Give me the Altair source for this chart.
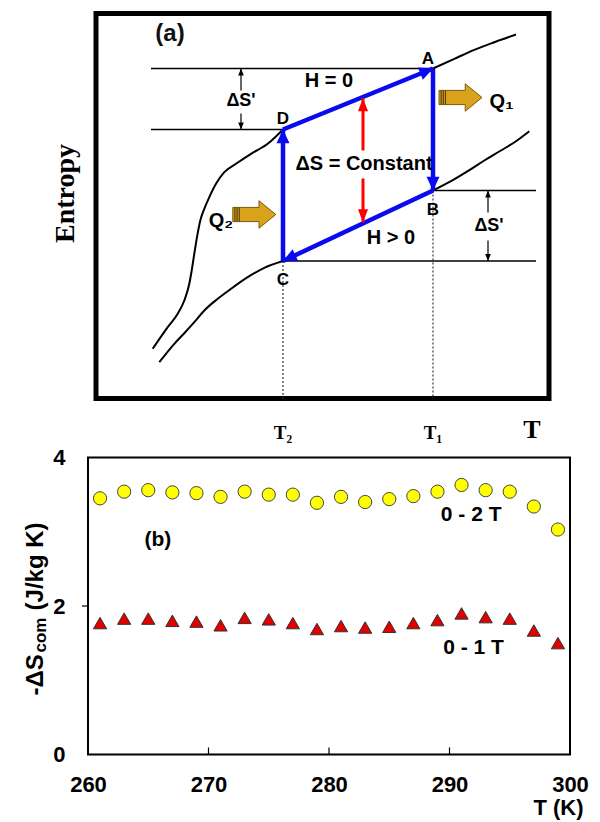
import math
import altair as alt
import pandas as pd

SANS = "Liberation Sans"
SERIF = "Liberation Serif"

# ---------------- panel (b) data ----------------
T_K = [261, 263, 265, 267, 269, 271, 273, 275, 277, 279,
       281, 283, 285, 287, 289, 291, 293, 295, 297, 299]
dS_0_2T = [3.45, 3.54, 3.56, 3.53, 3.52, 3.47, 3.54, 3.50, 3.50, 3.39,
           3.47, 3.40, 3.44, 3.48, 3.54, 3.63, 3.56, 3.54, 3.34, 3.03]
dS_0_1T = [1.77, 1.83, 1.83, 1.80, 1.79, 1.74, 1.84, 1.82, 1.77, 1.69,
           1.73, 1.71, 1.72, 1.77, 1.81, 1.90, 1.85, 1.83, 1.67, 1.50]
x_ticks_b = [260, 270, 280, 290, 300]
x_inner_ticks_b = [270, 280, 290]
y_ticks_b = [0, 2, 4]
y_outer_ticks_b = [2]
series_labels = ["0 - 2 T", "0 - 1 T", "(b)"]
series_label_T = [291.8, 292.0, 265.8]
series_label_v = [3.22, 1.43, 2.89]
ytitle_parts = ["-ΔS", "com", "(J/kg K)"]
ytitle_T = [255.7, 256.1, 255.7]
ytitle_v = [0.795, 1.374, 1.94]

# ---------------- panel (a) schematic (diagram units: T right, S up) ----------------
frame_x = [8, 461]
frame_y = [0, 385]

upper_left_x = [64.7, 79.7, 89.7, 96.3, 101.3, 103.7, 106.3, 109, 112.3, 116.3, 121.3, 128, 136.3, 148, 163, 179.7, 195]
upper_left_y = [49.7, 71.3, 84.7, 98, 114.7, 128, 144.7, 161.3, 178, 189.7, 201.3, 214.7, 226.3, 234.7, 244.7, 254.7, 269]
upper_right_x = [345, 366.3, 386.3, 406.3, 428]
upper_right_y = [330, 339.7, 348.7, 356.3, 364]
lower_left_x = [71.3, 86.3, 96.3, 106.3, 116.3, 129.7, 143, 159.7, 176.3, 195]
lower_left_y = [36.3, 54.7, 65.3, 76.3, 88, 99.7, 109.7, 121.3, 130.7, 137.5]
lower_right_x = [345, 363, 379.7, 396.3, 413, 428, 441.3]
lower_right_y = [208, 217.3, 227.3, 238, 248, 257.3, 267.3]

# cycle points A, B, C, D
cycle_names = ["A", "B", "C", "D"]
cycle_x = [345, 345, 195, 195]
cycle_y = [330, 208, 137.5, 269]

# horizontal entropy levels
level_x1 = [63, 63, 345, 195]
level_x2 = [345, 195, 448, 448]
level_y = [330, 269, 208, 137.5]

# dotted drops to the T axis
drop_x = [195, 345]
drop_y = [137.5, 208]

# red ΔS = constant arrows (start -> tip)
red_x = [275, 275]
red_y_start = [248, 220]
red_y_tip = [300.5, 176]

# ΔS' arrows (start -> tip)
dsp_x = [153, 153, 400, 400]
dsp_y_start = [308, 285, 186, 158]
dsp_y_tip = [330, 269, 208, 137.5]

# heat-flow arrows
heat_x = [372.5, 166.3]
heat_y = [301, 184]

point_labels = ["A", "B", "C", "D"]
point_label_x = [340, 345, 195, 195]
point_label_y = [340, 189, 119, 280]
sans_labels = ["H = 0", "H > 0", "ΔS = Constant", "ΔS'", "ΔS'", "Q₁", "Q₂"]
sans_label_x = [241, 303, 276, 153, 401, 413.5, 133]
sans_label_y = [318, 161, 235, 298, 173, 297, 178]
panel_tag = ["(a)"]
panel_tag_x = [82]
panel_tag_y = [365]
t_labels = ["T₂", "T₁", "T"]
t_label_x = [195, 345, 444]
t_label_y = [-34, -34, -31]
s_label = ["Entropy"]
s_label_x = [-22]
s_label_y = [205]

# ---------------- panel (a) ----------------
XA = alt.Scale(domain=[0, 482], nice=False, zero=False)
YA = alt.Scale(domain=[0, 385], nice=False, zero=False)


def xa(f="x"):
    return alt.X(f"{f}:Q", scale=XA, axis=None)


def ya(f="y"):
    return alt.Y(f"{f}:Q", scale=YA, axis=None)


def heading(dx, dy):
    return (math.degrees(math.atan2(dx, dy)) + 360) % 360


frame_df = pd.DataFrame({"x": [frame_x[0]], "x2": [frame_x[1]], "y": [frame_y[0]], "y2": [frame_y[1]]})
frame = alt.Chart(frame_df).mark_rect(fillOpacity=0, stroke="black", strokeWidth=5).encode(
    x=xa(), x2="x2:Q", y=ya(), y2="y2:Q")

curve_rows = []
for name, xs, ys in [("ul", upper_left_x, upper_left_y), ("ur", upper_right_x, upper_right_y),
                     ("ll", lower_left_x, lower_left_y), ("lr", lower_right_x, lower_right_y)]:
    for i, (x, y) in enumerate(zip(xs, ys)):
        curve_rows.append({"curve": name, "i": i, "x": x, "y": y})
curves = alt.Chart(pd.DataFrame(curve_rows)).mark_line(
    color="black", strokeWidth=2, interpolate="monotone").encode(
    x=xa(), y=ya(), detail="curve:N", order="i:Q")

levels_df = pd.DataFrame({"x": level_x1, "x2": level_x2, "y": level_y, "y2": level_y})
levels = alt.Chart(levels_df).mark_rule(color="black", strokeWidth=1.6).encode(
    x=xa(), x2="x2:Q", y=ya(), y2="y2:Q")

drops_df = pd.DataFrame({"x": drop_x, "x2": drop_x, "y": drop_y, "y2": [frame_y[0]] * len(drop_x)})
drops = alt.Chart(drops_df).mark_rule(color="#333333", strokeWidth=1.2, strokeDash=[2, 2]).encode(
    x=xa(), x2="x2:Q", y=ya(), y2="y2:Q")

# blue cycle D->A, A->B, B->C, C->D
order = [3, 0, 1, 2]
seg = []
for k in range(4):
    s = order[k]
    e = order[(k + 1) % 4]
    seg.append({"x": cycle_x[s], "y": cycle_y[s], "x2": cycle_x[e], "y2": cycle_y[e],
                "ang": heading(cycle_x[e] - cycle_x[s], cycle_y[e] - cycle_y[s])})
seg_df = pd.DataFrame(seg)
blue = alt.Chart(seg_df).mark_rule(color="#0A0AF0", strokeWidth=4.5).encode(
    x=xa(), x2="x2:Q", y=ya(), y2="y2:Q")
blue_heads = alt.Chart(seg_df).mark_point(
    shape="M0,0L0.5,1.05L-0.5,1.05Z", filled=True, size=676, color="#0A0AF0", opacity=1).encode(
    x=xa("x2"), y=ya("y2"), angle=alt.Angle("ang:Q", scale=None))

red_df = pd.DataFrame({"x": red_x, "x2": red_x, "y": red_y_start, "y2": red_y_tip,
                       "ang": [heading(0, t - s) for s, t in zip(red_y_start, red_y_tip)]})
red = alt.Chart(red_df).mark_rule(color="#FF0000", strokeWidth=3).encode(
    x=xa(), x2="x2:Q", y=ya(), y2="y2:Q")
red_heads = alt.Chart(red_df).mark_point(
    shape="M0,0L0.38,1L-0.38,1Z", filled=True, size=700, color="#FF0000", opacity=1).encode(
    x=xa("x2"), y=ya("y2"), angle=alt.Angle("ang:Q", scale=None))

dsp_df = pd.DataFrame({"x": dsp_x, "x2": dsp_x, "y": dsp_y_start, "y2": dsp_y_tip,
                       "ang": [heading(0, t - s) for s, t in zip(dsp_y_start, dsp_y_tip)]})
dsp = alt.Chart(dsp_df).mark_rule(color="black", strokeWidth=1.2).encode(
    x=xa(), x2="x2:Q", y=ya(), y2="y2:Q")
dsp_heads = alt.Chart(dsp_df).mark_point(
    shape="M0,0L0.4,1L-0.4,1Z", filled=True, size=196, color="black", opacity=1).encode(
    x=xa("x2"), y=ya("y2"), angle=alt.Angle("ang:Q", scale=None))

heat_df = pd.DataFrame({"x": heat_x, "y": heat_y})
heat = alt.Chart(heat_df).mark_point(
    shape="M-1,-0.33L0.22,-0.33L0.22,-0.64L1,0L0.22,0.64L0.22,0.33L-1,0.33Z",
    filled=True, size=1849, fill="#D9A21B", stroke="#7A5A12", strokeWidth=1, opacity=1).encode(
    x=xa(), y=ya())
heat_stripes = alt.Chart(heat_df).mark_point(
    shape="M-0.9,-0.33L-0.9,0.33M-0.8,-0.33L-0.8,0.33M-0.7,-0.33L-0.7,0.33",
    filled=False, size=1849, stroke="#5A410A", strokeWidth=1.2, opacity=1).encode(
    x=xa(), y=ya())

pt_text = alt.Chart(pd.DataFrame({"t": point_labels, "x": point_label_x, "y": point_label_y})).mark_text(
    font=SANS, fontWeight="bold", fontSize=17, color="black", align="center", baseline="middle").encode(
    x=xa(), y=ya(), text="t:N")

sans_df = pd.DataFrame({"t": sans_labels, "x": sans_label_x, "y": sans_label_y})
sans_df["fs"] = [18 if t == "ΔS'" else 20 for t in sans_labels]
sans_text = alt.Chart(sans_df).mark_text(font=SANS, fontWeight="bold", color="black",
                                          align="center", baseline="middle").encode(
    x=xa(), y=ya(), text="t:N", size=alt.Size("fs:Q", scale=None))

tag_a = alt.Chart(pd.DataFrame({"t": panel_tag, "x": panel_tag_x, "y": panel_tag_y})).mark_text(
    font=SANS, fontSize=24, fontWeight=600, color="#111111", align="center", baseline="middle").encode(
    x=xa(), y=ya(), text="t:N")

t_df = pd.DataFrame({"t": t_labels, "x": t_label_x, "y": t_label_y})
t_df["fs"] = [19, 19, 26]
t_text = alt.Chart(t_df).mark_text(font=SERIF, fontWeight="bold", color="black",
                                    align="center", baseline="middle").encode(
    x=xa(), y=ya(), text="t:N", size=alt.Size("fs:Q", scale=None))

s_text = alt.Chart(pd.DataFrame({"t": s_label, "x": s_label_x, "y": s_label_y})).mark_text(
    font=SERIF, fontWeight="bold", fontSize=28, angle=270, color="black",
    align="center", baseline="middle").encode(x=xa(), y=ya(), text="t:N")

panel_a = alt.layer(frame, levels, drops, curves, blue, blue_heads, red, red_heads,
                    dsp, dsp_heads, heat, heat_stripes, pt_text, sans_text, tag_a, t_text, s_text).properties(
    width=482, height=385, view=alt.ViewBackground(stroke="transparent"))

# ---------------- panel (b) ----------------
XB = alt.Scale(domain=[260, 300], nice=False, zero=False)
YB = alt.Scale(domain=[0, 4], nice=False, zero=False)
x_axis_b = alt.Axis(values=x_ticks_b, format="d", labelFont=SANS, labelFontSize=22,
                    labelFontWeight="bold", labelColor="black", labelFlush=False,
                    labelPadding=20, ticks=False, domain=False, grid=False,
                    title="T (K)", titleFont=SANS, titleFontSize=22, titleFontWeight="bold",
                    titleColor="black", titleX=495, titleY=53, titleAlign="right",
                    titleBaseline="middle")
y_axis_b = alt.Axis(values=y_ticks_b, format="d", labelFont=SANS, labelFontSize=22,
                    labelFontWeight="bold", labelColor="black", labelPadding=23,
                    ticks=False, domain=False, grid=False, title=None)


def xb(f="T"):
    return alt.X(f"{f}:Q", scale=XB, axis=x_axis_b, title="T (K)")


def yb(f="v"):
    return alt.Y(f"{f}:Q", scale=YB, axis=y_axis_b, title=None)


circ_df = pd.DataFrame({"T": T_K, "v": dS_0_2T})
tri_df = pd.DataFrame({"T": T_K, "v": dS_0_1T})
circles = alt.Chart(circ_df).mark_point(shape="circle", filled=True, size=175, fill="#FFFF00",
                                        stroke="#444444", strokeWidth=1, opacity=1).encode(x=xb(), y=yb())
triangles = alt.Chart(tri_df).mark_point(shape="triangle-up", filled=True, size=175, fill="#E00000",
                                         stroke="#333333", strokeWidth=1, opacity=1).encode(x=xb(), y=yb())

xt_df = pd.DataFrame({"T": x_inner_ticks_b, "T2": x_inner_ticks_b,
                      "v": [0] * len(x_inner_ticks_b), "v2": [0.095] * len(x_inner_ticks_b)})
xticks = alt.Chart(xt_df).mark_rule(color="black", strokeWidth=1.2).encode(
    x=xb(), x2="T2:Q", y=yb(), y2="v2:Q")
yt_df = pd.DataFrame({"T": [259.5] * len(y_outer_ticks_b), "T2": [260] * len(y_outer_ticks_b),
                      "v": y_outer_ticks_b, "v2": y_outer_ticks_b})
yticks = alt.Chart(yt_df).mark_rule(color="black", strokeWidth=1.2).encode(
    x=xb(), x2="T2:Q", y=yb(), y2="v2:Q")

lab_df = pd.DataFrame({"t": series_labels, "T": series_label_T, "v": series_label_v})
labels_b = alt.Chart(lab_df).mark_text(font=SANS, fontWeight="bold", fontSize=21, color="black",
                                       align="center", baseline="middle").encode(
    x=xb(), y=yb(), text="t:N")

yt_title_df = pd.DataFrame({"t": ytitle_parts, "T": ytitle_T, "v": ytitle_v})
yt_title_df["fs"] = [24, 17, 24]
ytitle = alt.Chart(yt_title_df).mark_text(font=SANS, fontWeight="bold", angle=270, color="black",
                                          align="left", baseline="middle").encode(
    x=xb(), y=yb(), text="t:N", size=alt.Size("fs:Q", scale=None))

panel_b = alt.layer(xticks, yticks, circles, triangles, labels_b, ytitle).properties(
    width=482, height=297, view=alt.ViewBackground(stroke="black", strokeWidth=2))

chart = alt.vconcat(panel_a, panel_b, spacing=2).properties(
    padding={"left": 15, "top": 2.5, "right": 0, "bottom": 0}
).configure(background="white")

chart.save("out.html", embed_options={"renderer": "svg", "actions": False})
